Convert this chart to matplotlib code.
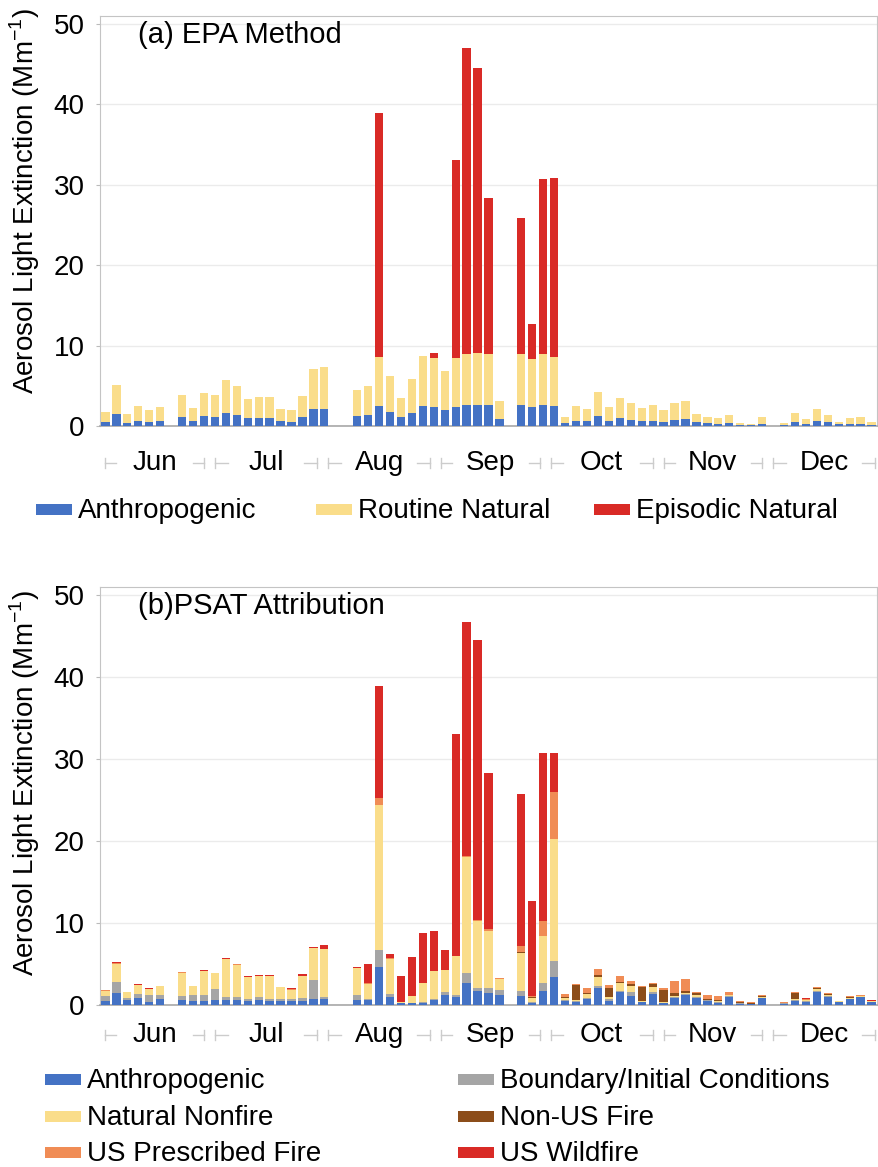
import numpy as np
import pandas as pd
import matplotlib
matplotlib.use("Agg")
import matplotlib.pyplot as plt
from matplotlib.patches import Rectangle

plt.rcParams["font.family"] = ["Liberation Sans", "DejaVu Sans"]
plt.rcParams["mathtext.fontset"] = "custom"
plt.rcParams["mathtext.rm"] = "Liberation Sans"

# Data

YEAR = 2017
sample_days = [
    "06-02", "06-05", "06-08", "06-11", "06-14", "06-17",
    "06-23", "06-26", "06-29", "07-02", "07-05", "07-08", "07-11", "07-14",
    "07-17", "07-20", "07-23", "07-26", "07-29", "08-01",
    "08-10", "08-13", "08-16", "08-19", "08-22", "08-25", "08-28", "08-31",
    "09-03", "09-06", "09-09", "09-12", "09-15", "09-18",
    "09-24", "09-27", "09-30", "10-03", "10-06", "10-09", "10-12", "10-15",
    "10-18", "10-21", "10-24", "10-27", "10-30", "11-02", "11-05", "11-08",
    "11-11", "11-14", "11-17", "11-20", "11-23", "11-26", "11-29",
    "12-05", "12-08", "12-11", "12-14", "12-17", "12-20", "12-23", "12-26", "12-29",
]
months = ["Jun", "Jul", "Aug", "Sep", "Oct", "Nov", "Dec"]

# (a) EPA method
epa_anthro = [
    .46, 1.49, .41, .66, .50, .62,
    1.16, .62, 1.20, 1.16, 1.66, 1.41, .95, .95, .95, .62, .54, 1.08, 2.07, 2.07,
    1.28, 1.41, 2.48, 1.78, 1.08, 1.66, 2.48, 2.40, 1.95, 2.40, 2.57, 2.65, 2.57, .87,
    2.57, 2.40, 2.57, 2.48, .33, .66, .58, 1.24, .66, .95, .79, .62, .66, .50, .79, .87,
    .46, .33, .25, .41, .17, .12, .25,
    .17, .50, .25, .62, .46, .21, .29, .25, .17,
]
epa_routine = [
    1.28, 3.64, 1.04, 1.82, 1.45, 1.70,
    2.73, 1.62, 2.90, 2.65, 4.05, 3.52, 2.40, 2.61, 2.61, 1.53, 1.41, 2.65, 5.05, 5.22,
    3.19, 3.56, 6.13, 4.42, 2.44, 4.18, 6.22, 6.00, 4.92, 6.00, 6.33, 6.45, 6.33, 2.28,
    6.43, 5.96, 6.33, 6.12, .83, 1.82, 1.49, 3.03, 1.70, 2.53, 2.03, 1.57, 1.91, 1.49, 2.03, 2.19,
    .99, .79, .70, .96, .16, .13, .91,
    .16, 1.07, .58, 1.53, .95, .33, .70, .83, .33,
]
epa_episodic = [
    0, 0, 0, 0, 0, 0,
    0, 0, 0, 0, 0, 0, 0, 0, 0, 0, 0, 0, 0, 0,
    0, 0, 30.29, 0, 0, 0, 0, .67, 0, 24.7, 38.1, 35.45, 19.5, 0,
    16.9, 4.39, 21.87, 22.25, 0, 0, 0, 0, 0, 0, 0, 0, 0, 0, 0, 0,
    0, 0, 0, 0, 0, 0, 0,
    0, 0, 0, 0, 0, 0, 0, 0, 0,
]

# (b) PSAT attribution
psat_anthro = [
    .53, 1.46, .57, .81, .33, .77,
    .57, .49, .53, .61, .61, .57, .53, .65, .53, .53, .53, .53, .77, .73,
    .57, .57, 4.67, .93, .20, .20, .28, .61, 1.18, .93, 2.64, 1.75, 1.50, 1.22,
    1.10, .28, 1.75, 3.46, .45, .41, .69, 2.07, .49, 1.54, 1.10, .33, 1.30, .20, .81, 1.18,
    .89, .49, .28, .98, .16, .12, .81,
    .16, .53, .37, 1.59, .93, .33, .69, .93, .37,
]
psat_bic = [
    .61, 1.30, .28, .53, .93, .45,
    .53, .77, .65, 1.30, .37, .41, .20, .37, .20, .20, .16, .28, 2.32, .25,
    .65, .12, 2.03, .45, .04, .08, .05, .12, .36, .29, 1.22, .36, .57, .61,
    .65, .07, .89, 1.91, .10, .08, .20, .25, .24, .17, .53, .08, .29, .05, .21, .16,
    .11, .06, .09, .08, .05, .02, .09,
    .03, .07, .08, .12, .17, .04, .06, .07, .04,
]
psat_nonfire = [
    .57, 2.28, .69, 1.10, .65, 1.10,
    2.84, 1.06, 2.92, 1.95, 4.63, 3.94, 2.64, 2.48, 2.77, 1.42, 1.14, 2.69, 3.86, 5.85,
    3.25, 1.91, 17.70, 4.27, .17, .82, 2.31, 3.46, 2.73, 4.71, 14.24, 8.19, 6.95, 1.38,
    4.63, .50, 5.77, 14.87, .30, .12, .41, 1.14, .29, .93, .73, .12, .56, .08, .12, .08,
    .26, .06, .12, .12, .05, .02, .12,
    .05, .17, .12, .20, .12, .08, .06, .10, .04,
]
psat_nonus_fire = [
    0, 0, 0, 0, 0, 0,
    0, 0, 0, 0, 0, 0, 0, 0, 0, 0, 0, 0, 0, 0,
    0, 0, 0, 0, 0, 0, 0, 0, 0, 0, 0, 0, .05, 0,
    .10, .10, .05, .06, .10, 1.83, .12, .16, 1.01, .12, .16, 1.62, .41, 1.54, .36, .29,
    .16, .08, .08, 0, .05, .12, .08,
    .04, .73, .05, .12, .16, .02, .17, .04, .04,
]
psat_us_rx = [
    .06, .08, .04, .05, .06, .02,
    .05, .02, .05, .03, .05, .05, .05, .05, .05, .03, .08, .08, .05, .05,
    .05, .05, .80, .07, 0, 0, 0, 0, 0, .05, .05, .05, .15, .12,
    .76, .11, 1.82, 5.70, .35, .08, .65, .77, .41, .78, .41, .13, .16, .24, 1.43, 1.46,
    .12, .49, .53, .36, .14, .09, .08,
    .05, .09, .10, .12, .08, .02, .12, .04, .04,
]
psat_us_wildfire = [
    .10, .12, .05, .07, .10, 0,
    .08, 0, .08, 0, .07, .07, .08, .07, .07, .03, .12, .16, .07, .40,
    .07, 2.35, 13.70, .50, 3.16, 4.75, 6.10, 4.83, 2.40, 27.10, 28.55, 34.15, 19.10, 0,
    18.56, 11.62, 20.42, 4.70, 0, 0, 0, 0, 0, 0, 0, 0, 0, 0, 0, 0,
    0, 0, 0, 0, 0, 0, 0,
    0, 0, .13, 0, 0, 0, 0, 0, .04,
]

epa_labels = ["Anthropogenic", "Routine Natural", "Episodic Natural"]
psat_labels = ["Anthropogenic", "Boundary/Initial Conditions", "Natural Nonfire",
               "Non-US Fire", "US Prescribed Fire", "US Wildfire"]

# Colors

C_ANTHRO = "#4472C4"
C_BIC = "#A5A5A5"
C_NATURAL = "#FADD8A"
C_NONUS = "#8C4D1A"
C_RX = "#F08C55"
C_WILD = "#D92A26"
C_BRACKET = "#cccccc"

epa_colors = [C_ANTHRO, C_NATURAL, C_WILD]
psat_colors = [C_ANTHRO, C_BIC, C_NATURAL, C_NONUS, C_RX, C_WILD]

W, H = 879, 1167
FS = 20
BAR_W = 2.27

t0 = pd.Timestamp(f"{YEAR}-06-01")
dates = pd.to_datetime([f"{YEAR}-{d}" for d in sample_days])
x = (dates - t0).days.to_numpy() + 0.5
month_edges = [(pd.Timestamp(YEAR, m, 1) - t0).days for m in range(6, 13)]
month_edges.append((pd.Timestamp(YEAR + 1, 1, 1) - t0).days)


def ax_rect(left, top, right, bottom):
    return [left / W, 1 - bottom / H, (right - left) / W, (bottom - top) / H]


def stack(ax, series, colors):
    bottom = np.zeros(len(x))
    for vals, c in zip(series, colors):
        vals = np.asarray(vals, dtype=float)
        ax.bar(x, vals, width=BAR_W, bottom=bottom, color=c, linewidth=0, zorder=3)
        bottom += vals


def style_axes(ax, title, y_br, ylab_y):
    ax.set_xlim(0, 213)
    ax.set_ylim(0, 51)
    ax.set_yticks([0, 10, 20, 30, 40, 50])
    ax.tick_params(axis="y", labelsize=FS, length=3, color="#bbbbbb", pad=8)
    ax.set_xticks([])
    ax.grid(axis="y", color="#ebebeb", linewidth=1, zorder=0)
    for side in ["left", "top", "right"]:
        ax.spines[side].set_color("#c4c4c4")
    ax.spines["bottom"].set_color("#a8a8a8")
    ax.spines["bottom"].set_linewidth(1.2)
    ax.set_ylabel(r"Aerosol Light Extinction (Mm$^{\mathregular{-1}}$)", fontsize=FS)
    ax.yaxis.set_label_coords(-0.075, ylab_y)
    ax.text(0.049, 0.954, title, transform=ax.transAxes, fontsize=21,
            ha="left", va="center")

    # month brackets under the axis
    tr = ax.get_xaxis_transform()
    dy = 0.012
    for name, s, e in zip(months, month_edges[:-1], month_edges[1:]):
        c = (s + e) / 2
        a, b = s + 1.5, e - 1.5
        for seg in ([a, c - 10.5], [c + 10.5, b]):
            ax.plot(seg, [y_br, y_br], transform=tr, color=C_BRACKET,
                    lw=1, clip_on=False)
        for xe in (a, b):
            ax.plot([xe, xe], [y_br - dy, y_br + dy], transform=tr,
                    color=C_BRACKET, lw=1, clip_on=False)
        ax.text(c, y_br, name, transform=tr, fontsize=FS, ha="center",
                va="center")


def legend_item(px, py, label, color):
    fig.add_artist(Rectangle((px / W, 1 - (py + 5) / H), 36 / W, 11 / H,
                             transform=fig.transFigure, color=color, lw=0))
    fig.text((px + 42) / W, 1 - (py + 8) / H, label, fontsize=FS,
             ha="left", va="baseline")


fig = plt.figure(figsize=(W / 100, H / 100), dpi=100)
ax_a = fig.add_axes(ax_rect(100, 16, 877, 426))
ax_b = fig.add_axes(ax_rect(100, 587, 877, 1005))

stack(ax_a, [epa_anthro, epa_routine, epa_episodic], epa_colors)
stack(ax_b, [psat_anthro, psat_bic, psat_nonfire, psat_nonus_fire,
             psat_us_rx, psat_us_wildfire], psat_colors)

style_axes(ax_a, "(a) EPA Method", -0.090, 0.55)
style_axes(ax_b, "(b)PSAT Attribution", -0.072, 0.53)

# legend (a): one row
for px, lab, col in zip([36, 316, 594], epa_labels, epa_colors):
    legend_item(px, 510, lab, col)

# legend (b): two columns, row-major order
for i, (lab, col) in enumerate(zip(psat_labels, psat_colors)):
    px = 45 if i % 2 == 0 else 458
    py = [1080, 1117, 1153][i // 2]
    legend_item(px, py, lab, col)

fig.savefig("out.png", dpi=100)
